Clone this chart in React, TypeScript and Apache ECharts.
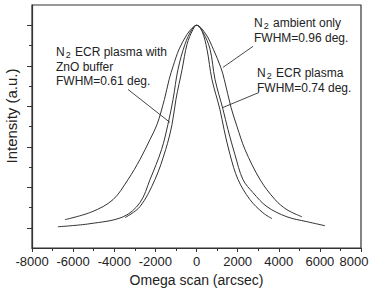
import { useEffect, useRef } from "react";
import * as echarts from "echarts";

// Omega rocking curves (normalised intensity vs. omega in arcsec)
const ambientX = [-6400, -5080, -4060, -3330, -2750, -2260, -1920, -1560, -1330, -1130, -850, -460, -170, 0, 460, 820, 1180, 1350, 1680, 1970, 2360, 3090, 3820, 4400, 5130];
const ambientY = [0.04, 0.079, 0.139, 0.238, 0.337, 0.436, 0.51, 0.634, 0.733, 0.8, 0.881, 0.955, 0.99, 1.0, 0.955, 0.881, 0.792, 0.733, 0.594, 0.5, 0.386, 0.238, 0.139, 0.089, 0.054];

const plasmaX = [-6740, -5180, -3570, -2750, -2260, -1700, -1390, -1140, -900, -560, -220, 0, 320, 660, 900, 1290, 1530, 1870, 2260, 2750, 3430, 4400, 5370, 6250];
const plasmaY = [0.005, 0.02, 0.054, 0.124, 0.238, 0.386, 0.51, 0.634, 0.782, 0.906, 0.98, 1.0, 0.965, 0.881, 0.733, 0.584, 0.485, 0.361, 0.238, 0.173, 0.104, 0.054, 0.03, 0.01];

const bufferX = [-3480, -2750, -2020, -1500, -1190, -1000, -700, -460, -170, 0, 270, 510, 750, 1140, 1340, 1630, 2020, 2600, 3230, 3670];
const bufferY = [0.05, 0.104, 0.238, 0.386, 0.51, 0.634, 0.782, 0.906, 0.98, 1.0, 0.97, 0.881, 0.733, 0.584, 0.485, 0.361, 0.238, 0.139, 0.074, 0.045];

const xTicks = [-8000, -6000, -4000, -2000, 0, 2000, 4000, 6000, 8000];
const yMajorTicks = [0, 0.2, 0.4, 0.6, 0.8, 1.0];
const yMinorTicks = [0.1, 0.3, 0.5, 0.7, 0.9];

// Annotation arrows: [tail, head] in data coordinates
const arrows: [number, number][][] = [
  [[-1290, 0.52], [-3330, 0.683]],
  [[1290, 0.792], [2750, 0.896]],
  [[1290, 0.594], [3040, 0.668]],
];

const FONT = "'Liberation Sans', Arial, Helvetica, sans-serif";
const INK = "#222";
const LINE = "#333";

const pairs = (xs: number[], ys: number[]) => xs.map((x, i) => [x, ys[i]]);

const labelLine = (x: number, y: number, text: string) => ({
  type: "text",
  x,
  y,
  silent: true,
  style: {
    text,
    fill: INK,
    fontFamily: FONT,
    fontSize: 12,
    verticalAlign: "middle",
    rich: {
      n: { fontSize: 12, fontFamily: FONT, fill: INK },
      s: { fontSize: 9, fontFamily: FONT, fill: INK, padding: [6, 1, 0, 1] },
    },
  },
});

export default function App() {
  const ref = useRef<HTMLDivElement>(null);

  useEffect(() => {
    if (!ref.current) return;
    const chart = echarts.init(ref.current, undefined, { renderer: "svg" });

    const curve = (name: string, data: number[][], extra: object = {}) => ({
      name,
      type: "line",
      data,
      smooth: 0.35,
      showSymbol: false,
      symbol: "none",
      lineStyle: { color: LINE, width: 1 },
      silent: true,
      ...extra,
    });

    const yAxisBase = {
      type: "value",
      min: -0.1,
      max: 1.1,
      position: "left",
      axisLabel: { show: false },
      splitLine: { show: false },
    };

    const lastTick = xTicks[xTicks.length - 1];

    chart.setOption({
      animation: false,
      grid: {
        left: 32,
        right: 9,
        top: 5,
        bottom: 44,
        outerBoundsMode: "none",
        containLabel: false,
        show: true,
        borderColor: LINE,
        borderWidth: 1.2,
        backgroundColor: "transparent",
      },
      xAxis: {
        type: "value",
        min: -8000,
        max: 8000,
        interval: 2000,
        axisLine: { show: true, onZero: false, lineStyle: { color: LINE, width: 1.2 } },
        axisTick: { show: true, length: 4, lineStyle: { color: LINE } },
        minorTick: { show: true, splitNumber: 2, length: 3, lineStyle: { color: LINE } },
        splitLine: { show: false },
        minorSplitLine: { show: false },
        axisLabel: {
          margin: 7,
          fontSize: 13,
          fontFamily: FONT,
          color: INK,
          customValues: xTicks,
          showMinLabel: true,
          showMaxLabel: true,
          hideOverlap: false,
          // the last label is nudged left so that it stays inside the canvas
          formatter: (v: number) => (v === lastTick ? `{edge|${v}}` : String(v)),
          rich: {
            edge: { fontSize: 13, fontFamily: FONT, color: INK, padding: [0, 14, 0, 0] },
          },
        },
        name: "Omega scan (arcsec)",
        nameLocation: "middle",
        nameGap: 24,
        nameTextStyle: { fontSize: 14, fontFamily: FONT, color: INK },
      },
      yAxis: [
        {
          ...yAxisBase,
          axisLine: { show: true, onZero: false, lineStyle: { color: LINE, width: 1.2 } },
          axisTick: { show: true, length: 5, customValues: yMajorTicks, lineStyle: { color: LINE } },
        },
        {
          ...yAxisBase,
          axisLine: { show: false, onZero: false },
          axisTick: { show: true, length: 3, customValues: yMinorTicks, lineStyle: { color: LINE } },
        },
      ],
      series: [
        curve("N2 ambient only", pairs(ambientX, ambientY), {
          markLine: {
            silent: true,
            animation: false,
            symbol: ["none", "arrow"],
            symbolSize: [0, 6],
            label: { show: false },
            emphasis: { disabled: true },
            lineStyle: { color: LINE, width: 0.9, type: "solid" },
            data: arrows.map(([a, b]) => [{ coord: a }, { coord: b }]),
          },
        }),
        curve("N2 ECR plasma", pairs(plasmaX, plasmaY)),
        curve("N2 ECR plasma with ZnO buffer", pairs(bufferX, bufferY)),
      ],
      graphic: [
        labelLine(56, 52, "{n|N}{s|2}{n| ECR plasma with}"),
        labelLine(56, 67, "{n|ZnO buffer}"),
        labelLine(56, 81, "{n|FWHM=0.61 deg.}"),
        labelLine(254, 23, "{n|N}{s|2}{n| ambient only}"),
        labelLine(254, 38, "{n|FWHM=0.96 deg.}"),
        labelLine(257, 73, "{n|N}{s|2}{n| ECR plasma}"),
        labelLine(257, 88, "{n|FWHM=0.74 deg.}"),
        {
          type: "text",
          x: 11,
          y: 116,
          rotation: Math.PI / 2,
          silent: true,
          style: {
            text: "Intensity (a.u.)",
            fill: INK,
            fontFamily: FONT,
            fontSize: 15,
            align: "center",
            verticalAlign: "middle",
          },
        },
      ],
    });

    return () => chart.dispose();
  }, []);

  return <div ref={ref} style={{ width: 370, height: 292, position: "absolute", left: 0, top: 0 }} />;
}
